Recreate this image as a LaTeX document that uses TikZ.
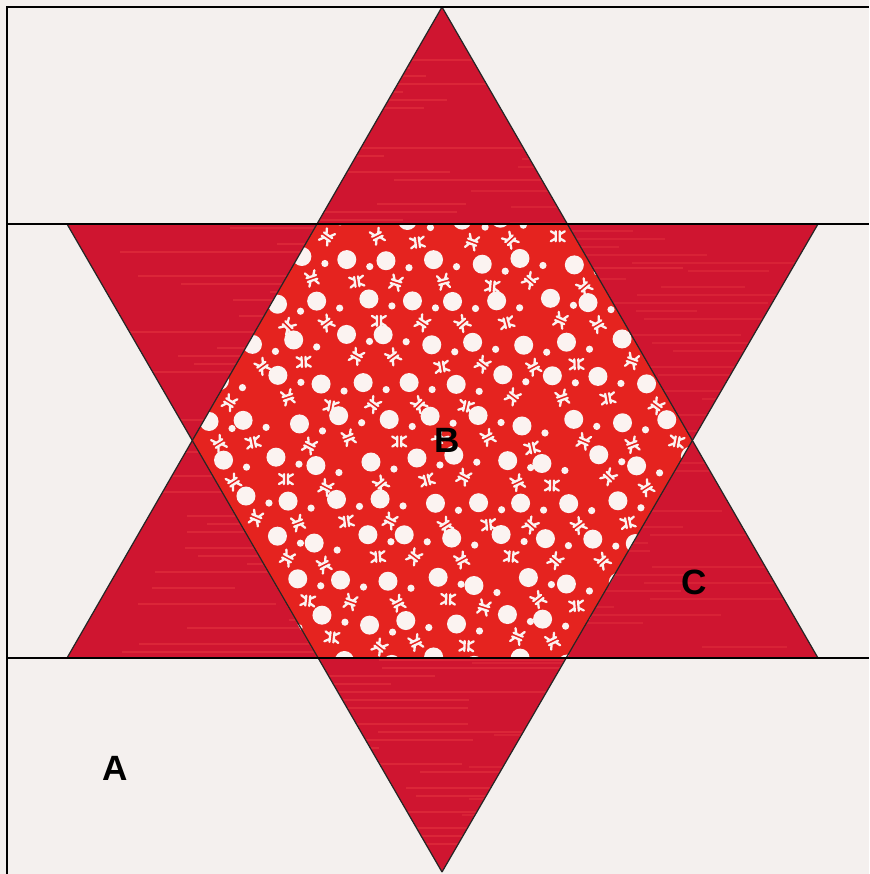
\documentclass[tikz,border=0pt]{standalone}
\usepackage{fontspec}
\setmainfont{Liberation Sans}
\definecolor{bgcol}{HTML}{F4F0EE}
\definecolor{starred}{HTML}{CF1530}
\definecolor{streak}{HTML}{E5343F}
\definecolor{hexred}{HTML}{E5231F}
\definecolor{dotwhite}{HTML}{FBF3F1}

\begin{document}
\begin{tikzpicture}[x=0.02cm,y=-0.02cm,
    edge/.style={black!85,line width=0.7pt},
    frame/.style={black,line width=1.1pt},
    lbl/.style={font=\bfseries\fontsize{20}{20}\selectfont}]
    \useasboundingbox (0,0) rectangle (869,874);
    \fill[bgcol] (0,0) rectangle (869,874);
    % star points
    \coordinate (T) at (442,7);
    \coordinate (B) at (442,872);
    \coordinate (TL) at (67,224);
    \coordinate (TR) at (818,224);
    \coordinate (BL) at (67,658);
    \coordinate (BR) at (818,658);
    % hexagon
    \coordinate (h1) at (317,224);
    \coordinate (h2) at (567,224);
    \coordinate (h3) at (692,441);
    \coordinate (h4) at (567,658);
    \coordinate (h5) at (317,658);
    \coordinate (h6) at (192,441);
    \fill[starred] (T) -- (BR) -- (BL) -- cycle;
    \fill[starred] (B) -- (TL) -- (TR) -- cycle;
    % streaks
    \begin{scope}
      \clip (T) -- (BR) -- (BL) -- cycle (B) -- (TL) -- (TR) -- cycle;
      \pgfmathsetseed{11}
      \foreach \y in {60,68,...,860}{
        \pgfmathsetmacro\xa{120+rnd*300}
        \pgfmathsetmacro\xb{\xa+80+rnd*200}
        \draw[streak,opacity=0.55,line width=1.2pt] (\xa,\y) -- (\xb,\y);
        \pgfmathsetmacro\xc{460+rnd*250}
        \draw[streak,opacity=0.45,line width=1pt] (\xc,\y+3) -- (\xc+60+rnd*120,\y+3);
      }
    \end{scope}
    % print of the centre
    \fill[hexred] (h1) -- (h2) -- (h3) -- (h4) -- (h5) -- (h6) -- cycle;
    \begin{scope}
      \clip (h1) -- (h2) -- (h3) -- (h4) -- (h5) -- (h6) -- cycle;
      \pgfmathsetseed{3}
      \foreach \j in {0,...,11}{
        \foreach \i in {0,...,11}{
          \pgfmathsetmacro\px{180+\i*46+mod(\j,2)*23+rand*7}
          \pgfmathsetmacro\py{220+\j*40+rand*6}
          \pgfmathsetmacro\ang{mod(\i+2*\j,3)*60-30+rand*15}
          \fill[dotwhite] (\px,\py) circle (9.5);
          \fill[dotwhite] (\px+23,\py+7) circle (3.6);
          \begin{scope}[shift={(\px+10,\py+22)},rotate=\ang]
            \draw[dotwhite,line width=1.3pt,line cap=round]
              (-5,-2) -- (5,-2) (-5,2) -- (5,2)
              (-2,-2) -- (-5,-7) (2,-2) -- (5,-7)
              (-2,2) -- (-5,7) (2,2) -- (5,7);
          \end{scope}
        }
      }
    \end{scope}
    % seams
    \draw[edge] (T) -- (BL) (T) -- (BR);
    \draw[edge] (B) -- (TL) (B) -- (TR);
    \draw[frame] (7,224) -- (869,224);
    \draw[frame] (7,658) -- (869,658);
    \draw[frame] (7,874) -- (7,7) -- (869,7);
    % labels
    \node[lbl] (la) at (115,768) {A};
    \node[lbl] (lb) at (447,440) {B};
    \node[lbl] (lc) at (694,582) {C};
\end{tikzpicture}
\end{document}
